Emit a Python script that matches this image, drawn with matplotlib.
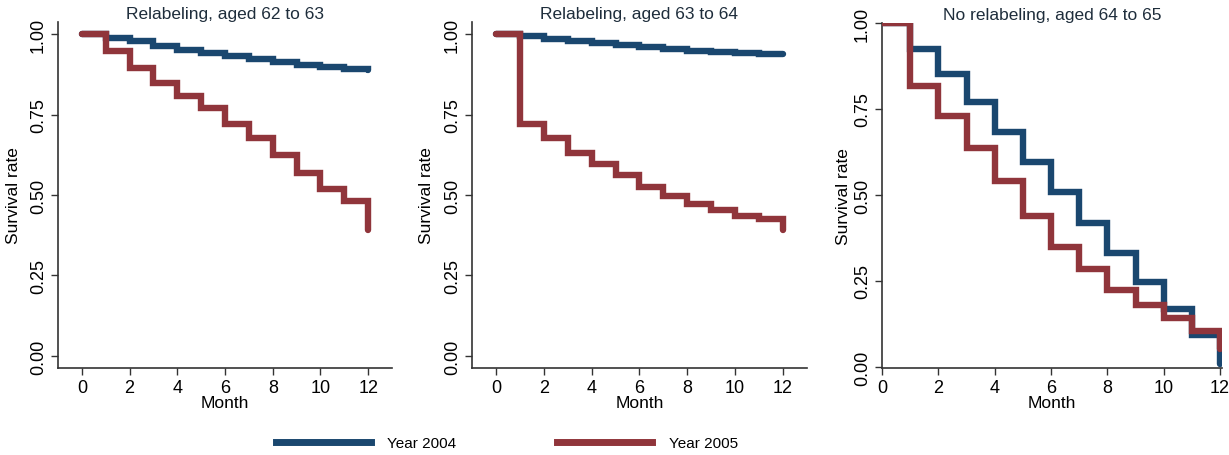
import matplotlib
matplotlib.use("Agg")
import matplotlib.pyplot as plt
from matplotlib.lines import Line2D

plt.rcParams["font.family"] = ["Liberation Sans", "DejaVu Sans"]

months = list(range(13))

# Kaplan-Meier style survival rates, one value per month (step after each month)
surv_62_2004 = [1.000, 0.987, 0.977, 0.962, 0.950, 0.941, 0.931, 0.921, 0.913, 0.904, 0.897, 0.892, 0.888]
surv_62_2005 = [1.000, 0.946, 0.896, 0.847, 0.808, 0.769, 0.722, 0.676, 0.624, 0.568, 0.520, 0.480, 0.392]

surv_63_2004 = [1.000, 0.995, 0.984, 0.978, 0.973, 0.967, 0.961, 0.953, 0.947, 0.944, 0.941, 0.939, 0.937]
surv_63_2005 = [1.000, 0.721, 0.678, 0.631, 0.597, 0.562, 0.525, 0.497, 0.473, 0.452, 0.436, 0.425, 0.392]

surv_64_2004 = [1.000, 0.924, 0.851, 0.769, 0.684, 0.597, 0.508, 0.418, 0.331, 0.247, 0.168, 0.092, 0.010]
surv_64_2005 = [1.000, 0.818, 0.729, 0.636, 0.541, 0.439, 0.349, 0.286, 0.225, 0.181, 0.142, 0.104, 0.053]

titles = ["Relabeling, aged 62 to 63", "Relabeling, aged 63 to 64", "No relabeling, aged 64 to 65"]
series_2004 = [surv_62_2004, surv_63_2004, surv_64_2004]
series_2005 = [surv_62_2005, surv_63_2005, surv_64_2005]
legend_labels = ["Year 2004", "Year 2005"]

NAVY = "#1a476f"
MAROON = "#90353b"
FS = 12.5

fig = plt.figure(figsize=(12.29, 4.56), dpi=100)

# axes boxes in figure fraction: left, bottom, width, height
boxes = [
    [0.0472, 0.1908, 0.2718, 0.7588],
    [0.3840, 0.1908, 0.2726, 0.7588],
    [0.7177, 0.1908, 0.2766, 0.7566],
]
xlims = [(-1, 13), (-1, 13), (0, 12.07)]
ylims = [(-0.0375, 1.0375), (-0.0375, 1.0375), (-0.003, 1.0)]
ylabel_x = [-0.112, -0.112, -0.092]

for i in range(3):
    ax = fig.add_axes(boxes[i])
    ax.plot(months, series_2004[i], drawstyle="steps-post", color=NAVY, lw=4.6,
            solid_capstyle="round", solid_joinstyle="miter", zorder=3)
    ax.plot(months, series_2005[i], drawstyle="steps-post", color=MAROON, lw=4.6,
            solid_capstyle="round", solid_joinstyle="miter", zorder=4)
    ax.set_xlim(*xlims[i])
    ax.set_ylim(*ylims[i])
    ax.set_xticks(range(0, 13, 2))
    ax.set_yticks([0, 0.25, 0.5, 0.75, 1.0])
    ax.set_yticklabels(["0.00", "0.25", "0.50", "0.75", "1.00"], rotation=90, va="center")
    ax.tick_params(labelsize=13, length=5, width=1, color="#333333", pad=3)
    for s in ["top", "right"]:
        ax.spines[s].set_visible(False)
    for s in ["left", "bottom"]:
        ax.spines[s].set_color("#333333")
        ax.spines[s].set_linewidth(1.2)
    ax.set_title(titles[i], fontsize=FS, color="#1e2d3b", pad=3)
    ax.set_xlabel("Month", fontsize=FS, labelpad=-1)
    ax.set_ylabel("Survival rate", fontsize=FS)
    ax.yaxis.set_label_coords(ylabel_x[i], 0.5)

handles = [Line2D([], [], color=NAVY, lw=5), Line2D([], [], color=MAROON, lw=5)]
fig.legend(handles, legend_labels, loc="center", bbox_to_anchor=(0.4125, 0.026), ncol=2,
           frameon=False, fontsize=11, handlelength=6.2, handletextpad=1.1, columnspacing=6.6)

fig.savefig("out.png", dpi=100)
